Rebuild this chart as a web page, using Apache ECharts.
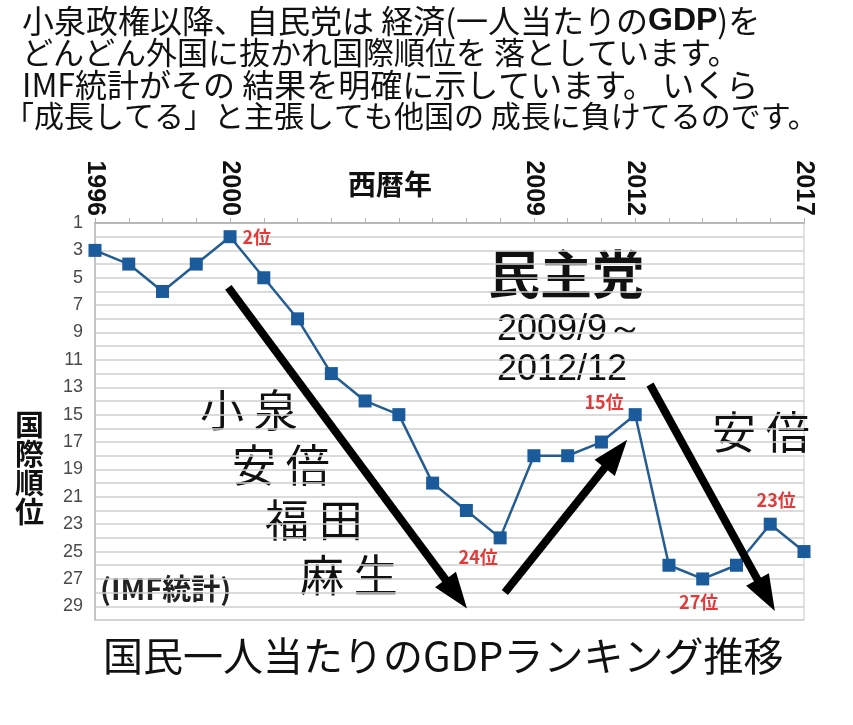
<!DOCTYPE html>
<html><head><meta charset="utf-8">
<script src="https://cdn.jsdelivr.net/npm/echarts@6/dist/echarts.min.js"></script>
<style>html,body{margin:0;padding:0;background:#fff;}#c{width:853px;height:725px;}</style>
</head><body><div id="c"></div>
<script>
// ---- data ----
const years = [1996,1997,1998,1999,2000,2001,2002,2003,2004,2005,2006,2007,2008,2009,2010,2011,2012,2013,2014,2015,2016,2017];
const ranks = [3,4,6,4,2,5,8,12,14,15,20,22,24,18,18,17,15,26,27,26,23,25];
const shownYears = [1996,2000,2009,2012,2017];
const callouts = [ // [year, label position]
  [2000,'right'],[2008,'bottomLeft'],[2012,'topLeft'],[2014,'bottom'],[2016,'top']
];
// arrows in data coordinates: [[year, rank] start, [year, rank] head centre]
const arrows = [
  [[1999.95,5.7],[2006.70,28.1]],
  [[2008.14,28.0],[2011.43,17.86]],
  [[2012.44,12.8],[2015.88,28.2]]
];
const headerLines = [
  '小泉政権以降、自民党は 経済(一人当たりの{b|GDP})を',
  'どんどん外国に抜かれ国際順位を 落としています。',
  'IMF統計がその 結果を明確に示しています。 いくら',
  '「成長してる」と主張しても他国の 成長に負けてるのです。'
];
const leaders = ['小泉','安倍','福田','麻生'];

const JP = '"Noto Sans CJK JP", sans-serif';
const posMap = {
  right:{position:'right',distance:6},
  bottomLeft:{position:'bottom',offset:[-22,-1]},
  topLeft:{position:'left',offset:[0,-12]},
  bottom:{position:'bottom',offset:[-4,3]},
  top:{position:'top',offset:[6,-4]}
};
const seriesData = years.map((y,i)=>{
  const c = callouts.find(k=>k[0]===y);
  const item = {value:[y,ranks[i]]};
  if(c){
    item.label = Object.assign({show:true,formatter:p=>p.value[1]+'位',color:'#e23a3a',fontSize:18,fontWeight:'bold',fontFamily:JP}, posMap[c[1]]);
  }
  return item;
});

const chart = echarts.init(document.getElementById('c'));
const graphics = [];
const hSizes = [32,31,32,30];
headerLines.forEach((t,i)=>{
  graphics.push({type:'text',left: i===3?4:22, top:5+i*32,style:{text:t,font:hSizes[i]+'px '+JP,fill:'#111',
    rich:{b:{fontSize:hSizes[i],fontWeight:'bold',fontFamily:'"Liberation Sans",sans-serif',fill:'#111'}}}});
});
const leaderPos = [[200,388],[232,443],[265,498],[300,553]];
leaders.forEach((t,i)=>{
  graphics.push({type:'text',left:leaderPos[i][0],top:leaderPos[i][1],style:{text:t.split('').join(' '),font:'44px '+JP,fill:'#111'}});
});
graphics.push({type:'text',left:712,top:410,style:{text:'安 倍',font:'44px '+JP,fill:'#111'}});
graphics.push({type:'text',left:488,top:248,style:{text:'民主党',font:'bold 52px '+JP,fill:'#111'}});
graphics.push({type:'text',left:497,top:312,style:{text:'2009/9～',font:'36px "Liberation Sans Narrow","Liberation Sans", sans-serif',fill:'#111'}});
graphics.push({type:'text',left:497,top:352,style:{text:'2012/12',font:'36px "Liberation Sans Narrow","Liberation Sans", sans-serif',fill:'#111'}});
graphics.push({type:'text',left:100,top:574,style:{text:'(IMF統計)',font:'bold 29px '+JP,fill:'#222'}});
graphics.push({type:'text',left:348,top:170,style:{text:'西暦年',font:'bold 28px '+JP,fill:'#111'}});
graphics.push({type:'text',left:15,top:410,style:{text:'国\n際\n順\n位',font:'bold 29px '+JP,fill:'#111',lineHeight:29}});
graphics.push({type:'text',left:103,top:636,style:{text:'国民一人当たりのGDPランキング推移',font:'40px '+JP,fill:'#111'}});

chart.setOption({
  animation:false,
  backgroundColor:'#fff',
  grid:{left:95,right:49,top:223,bottom:105,show:true,borderColor:'#c4c4c4',borderWidth:1},
  xAxis:{type:'value',min:1996,max:2017,interval:1,position:'top',
    axisLine:{show:true,lineStyle:{color:'#b8b8b8',width:2}},
    axisTick:{show:true,length:5,lineStyle:{color:'#b0b0b0'}},
    splitLine:{show:false},
    axisLabel:{rotate:90,margin:7,fontSize:25,fontWeight:'bold',color:'#111',fontFamily:'"Liberation Sans",sans-serif',
      formatter:v=>shownYears.includes(v)?String(v):''}},
  yAxis:{type:'value',inverse:true,min:1,max:30,interval:1,
    axisLine:{show:true,lineStyle:{color:'#c4c4c4',width:2}},
    axisTick:{show:false},
    splitLine:{show:true,lineStyle:{color:'#cfcfcf',width:1.5}},
    axisLabel:{margin:12,fontSize:18,color:'#4a4a4a',fontFamily:'"Liberation Sans Narrow","Liberation Sans",sans-serif',
      formatter:v=>(v%2===1)?String(v):''}},
  series:[{
    type:'line',data:seriesData,symbol:'rect',symbolSize:13,
    lineStyle:{color:'#245d92',width:2.5},
    itemStyle:{color:'#1b5b9b'},
    markLine:{silent:true,symbol:['none','path://M5,0L10,14L0,14Z'],symbolSize:[26,36],
      lineStyle:{color:'#000',width:8,type:'solid'},itemStyle:{color:'#000'},label:{show:false},
      data:arrows.map(a=>[{coord:a[0]},{coord:a[1]}])}
  }],
  graphic:graphics
});
</script></body></html>
